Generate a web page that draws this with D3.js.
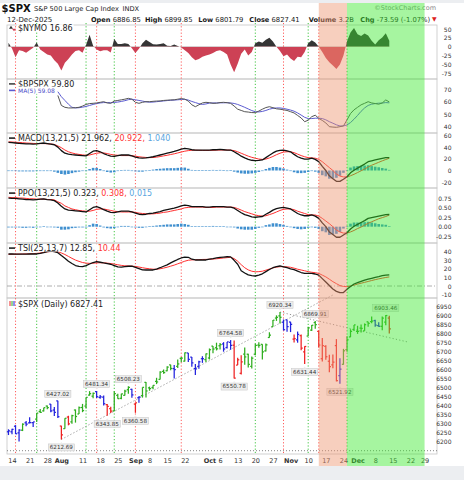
<!DOCTYPE html>
<html>
<head>
<meta charset="utf-8">
<title>$SPX</title>
<script src="https://cdn.jsdelivr.net/npm/d3@7"></script>
<style>
  html, body { margin: 0; padding: 0; background: #eceef1; overflow: hidden; }
  svg { display: block; font-family: "DejaVu Sans", sans-serif; }
</style>
</head>
<body>
<svg id="drawing_region"></svg>
<script>
// trading calendar
const firstDay = "2025-07-11";
const lastDay = "2026-01-05";
const holidays = ["2025-09-01", "2025-11-27", "2025-12-25", "2026-01-01"];

// daily bars, Jul 11 .. Dec 12
const priceOpen = [
  6255,6255,6286,6249,6264,6305,6304,6306,6326,6368,
  6371,6398,6409,6376,6427,6287,6272,6337,6310,6376,
  6354,6390,6398,6459,6453,6478,6446,6448,6406,6384,
  6371,6457,6441,6457,6489,6491,6409,6445,6456,6529,
  6499,6501,6535,6546,6591,6594,6627,6606,6619,6663,
  6647,6693,6670,6606,6619,6661,6656,6665,6731,6722,
  6733,6743,6723,6752,6736,6626,6580,6686,6686,6619,
  6686,6737,6741,6705,6779,6840,6887,6899,6864,6877,
  6865,6770,6766,6789,6699,6787,6820,6862,6813,6661,
  6729,6647,6627,6734,6567,6630,6711,6782,6823,6813,
  6831,6816,6866,6867,6873,6845,6841,6864,6886.85];
const priceHigh = [
  6269,6272,6292,6269,6302,6315,6336,6310,6360,6381,
  6389,6401,6410,6393,6427.02,6289,6330,6344,6350,6379,
  6395,6410,6446,6481,6474,6481.34,6459,6456,6410,6394,
  6480,6466,6467,6488,6508.23,6494,6417,6453,6502,6532,
  6506,6513,6555,6592,6601,6619,6627,6626,6657,6671,
  6695,6693,6670,6632,6650,6675,6690,6718,6731,6750,
  6749,6753,6754,6764.58,6762,6666,6680,6724,6688,6674,
  6744,6752,6742,6746,6808,6876,6902,6920.34,6879,6878,
  6866,6796,6812,6796,6730,6838,6848,6869.91,6818,6776,
  6736,6683,6684,6770,6664,6716,6786,6825,6849,6844,
  6851,6857,6867,6895,6878,6864,6895,6903.46,6899.85];
const priceLow = [
  6237,6242,6243,6201,6259,6286,6303,6282,6310,6360,
  6368,6380,6363,6343,6331,6212.69,6272,6291,6300,6306,
  6354,6364,6385,6456,6441,6443,6439,6401,6343.85,6360,
  6371,6438,6436,6457,6467,6444,6360.58,6417,6445,6446,
  6483,6491,6520,6545,6577,6592,6597,6551,6609,6642,
  6646,6643,6617,6570,6605,6638,6643,6657,6692,6707,
  6712,6700,6718,6711,6550.78,6626,6573,6627,6612,6606,
  6680,6722,6657,6701,6778,6838,6871,6856,6818,6811,
  6809,6751,6750,6708,6631.44,6787,6815,6827,6724,6646,
  6655,6586,6608,6535,6521.92,6628,6700,6781,6815,6799,
  6807,6816,6839,6858,6838,6838,6819,6847,6801.79];
const priceClose = [
  6260,6269,6244,6264,6297,6297,6306,6310,6359,6363,
  6389,6390,6371,6363,6339,6238,6330,6299,6345,6340,
  6389,6373,6446,6467,6469,6450,6449,6411,6396,6370,
  6467,6439,6466,6481,6502,6460,6416,6448,6502,6482,
  6495,6513,6532,6587,6584,6615,6607,6600,6632,6664,
  6694,6657,6638,6605,6644,6661,6688,6711,6715,6716,
  6740,6715,6754,6735,6553,6655,6644,6671,6629,6664,
  6735,6735,6699,6738,6792,6875,6891,6891,6822,6840,
  6852,6772,6796,6720,6729,6832,6847,6851,6737,6734,
  6672,6617,6642,6539,6603,6705,6766,6813,6849,6813,
  6829,6850,6857,6870,6847,6841,6887,6901,6827.41];
// impulse colour per bar: g = green, b = blue, r = red
const barColors = "bbbbgbbbgg" + "ggbbbrgrgg" + "gggggbbbrr" + "gggggbrbgg" + "gggggggbgg" +
  "gbbbbbgggg" + "gbbbrrrggg" + "ggggggggbb" + "brbrrgggrr" + "rrrrbggggg" + "ggggbbggr";

const nymo = [
  11,-5,-30,-10,-12,-17,-10,-3,12,-8,
  -15,-22,-25,-38,-48,-67,-45,-35,-22,-12,
  -10,-17,5,34,3,-8,-13,-10,-10,-16,
  22,8,8,10,8,-4,-18,-6,10,20,
  13,7,6,8,10,3,2,6,2,-2,
  -10,-18,-30,-38,-35,-28,-25,-22,-18,-12,
  -10,-15,-22,-50,-72,-48,-20,-8,-25,-15,
  10,15,11,20,25,15,0,-12,-27,-22,
  -33,-40,-28,-30,-15,10,18,12,0,-15,
  -32,-44,-53,-63,-50,-25,15,40,53,35,
  30,37,32,17,6,18,26,38,17];

const bpStart = "2025-07-31";
const bpspx = [
  65,57,55.5,55,55,55.2,55.5,56.5,57.8,58.5,
  58.7,59,59.5,60,59,58.7,60.5,61,61.5,62,
  62.7,62,59.5,58.7,59.5,60,60,60.3,60.5,60.6,
  61,61.2,61.4,61.5,62,62.5,62,60.5,57.5,56,
  57.5,59,59.5,59.2,58.7,58.8,59.3,59.5,59.2,58.7,
  56.5,54,53,52,51.7,51.3,51.2,52.5,54,55.3,
  56,55.2,54.3,54,53.5,53,52,51,49,47,
  44,45.2,48,49.2,46.7,45,43,40,39.7,39.5,
  40,40.6,45.4,50.5,53.5,55.5,57.5,58.7,60,59,
  58.5,58,59,61.4,59.8];
const bpMA5 = [
  68,64,61,58,55.5,55,55.2,55.6,56.2,57,
  57.8,58.5,59,59.3,59.3,59.2,59.4,59.7,60.2,60.8,
  61.6,62,61.5,61,60.5,59.9,59.6,59.7,60,60.3,
  60.6,60.9,61.1,61.3,61.5,61.8,61.9,61.3,60.2,59.3,
  58.4,57.8,58.2,58.9,59,59,59.1,59.1,59.2,59,
  58.6,57.8,56.7,55.5,54.2,52.9,52,51.8,52.2,53,
  54,54.7,55,55,54.6,54,53.3,52.4,51,49.3,
  47.5,46.5,46.5,46.8,46.8,46.5,45.5,44,42.8,41.5,
  40.6,40.6,41.4,43.3,46,49,52.3,55,57,58,
  58.5,58.8,58.9,59.3,59.08];

const macdLine = [
  48,47.5,47,46.5,46,45.5,45.5,45,45.5,46.5,
  47,46,45,44,40,34,29.5,28,27,26.5,
  26,25.5,25,29,33,34,32,29,26.5,24.5,
  24,25.5,26.5,26.5,26.5,25,23,21.5,21,21.5,
  22.5,23.5,25,26.5,28,29.5,31,32.5,34.5,36.5,
  38,37,35.5,35,35,35,35,35,35.5,35.5,
  36,35.5,35,35,32,28.5,24.5,21.5,19,17.5,
  16.8,17.2,18,22,26,30,33,34.5,35,33.5,
  32,27.5,23.5,21,19.5,19.5,21,19,15,7,
  0,-9,-14,-18.5,-18.5,-15,-10.6,-4,0.5,4,
  7.5,11,15,16.5,18,19.5,20.8,22,21.96];
const macdSignal = [
  49,48.7,48.3,48,47.5,47,46.7,46.3,46,46,
  46,45.8,45.3,44.5,42,39,35,32,30,28.5,
  27.5,26.7,26,26.5,28,29.5,30.3,30,29,27.5,
  26.5,26,25.5,25.5,25.5,25.3,24.5,23.5,22.8,22.3,
  22,22.2,22.8,23.8,25,26,27.3,28.5,30,31.5,
  33,34,34.5,34.7,34.5,34.3,34.3,34.3,34.5,34.8,
  35,35,35,34.8,34,32,29.5,27,24.5,22.5,
  21,19.5,19,19.5,21.5,24,27,29.5,31.5,32,
  32,30.5,28,25.5,23.5,22,21.5,21,19,15,
  10,5,0,-6,-9.5,-11,-11,-9,-6.5,-3.5,
  -0.5,2.5,6,9,11.5,14,16.5,18.8,20.92];
const macdHist = [
  -1,-1,-1,-1.5,-1.5,-1.5,-1.5,-1.5,-1,-0.5,
  0,-0.5,-1,-2,-4,-6,-7,-6,-4.5,-3,
  -2,-1,0,2.5,4.5,4.5,2.5,0,-2.5,-3.5,
  -3,-1,0.5,1,1,0,-1.5,-2,-2,-1,
  0.5,1.5,2.5,3,3.5,4,4,4,4.5,5,
  5,3,1,0.3,0.5,0.7,0.7,0.7,1,0.7,
  1,0.5,0,0.2,-2,-3.5,-5,-5.5,-5.5,-5,
  -4,-2.5,-1,2.5,4.5,6,6,5,3.5,1.5,
  0,-3,-4.5,-4.5,-4,-2.5,-0.5,-2,-4,-8,
  -10,-14,-14,-12.5,-9,-4,0.4,5,7,7.5,
  8,8.5,9,7.5,6.5,5.5,4.3,3.2,1.04];

const ppoLine = [
  0.76,0.75,0.75,0.74,0.73,0.72,0.72,0.71,0.72,0.73,
  0.74,0.72,0.71,0.69,0.63,0.54,0.47,0.44,0.43,0.42,
  0.41,0.40,0.39,0.45,0.51,0.53,0.50,0.45,0.41,0.38,
  0.37,0.39,0.41,0.41,0.41,0.39,0.36,0.33,0.32,0.33,
  0.35,0.36,0.38,0.40,0.43,0.45,0.47,0.49,0.52,0.55,
  0.57,0.56,0.53,0.53,0.53,0.53,0.52,0.52,0.53,0.53,
  0.53,0.53,0.52,0.52,0.49,0.43,0.37,0.32,0.29,0.26,
  0.25,0.26,0.27,0.33,0.38,0.44,0.48,0.50,0.51,0.49,
  0.47,0.41,0.35,0.31,0.29,0.29,0.31,0.28,0.22,0.10,
  0.00,-0.14,-0.21,-0.28,-0.28,-0.22,-0.16,-0.06,0.01,0.06,
  0.11,0.16,0.22,0.24,0.26,0.28,0.30,0.32,0.323];
const ppoSignal = [
  0.78,0.77,0.77,0.76,0.76,0.75,0.74,0.74,0.73,0.73,
  0.73,0.72,0.72,0.71,0.66,0.62,0.55,0.51,0.47,0.45,
  0.43,0.42,0.41,0.41,0.43,0.46,0.47,0.47,0.45,0.43,
  0.41,0.40,0.39,0.39,0.39,0.39,0.38,0.36,0.35,0.34,
  0.34,0.34,0.35,0.36,0.38,0.39,0.41,0.43,0.45,0.47,
  0.50,0.51,0.52,0.52,0.52,0.52,0.51,0.51,0.51,0.52,
  0.52,0.52,0.52,0.52,0.51,0.48,0.44,0.40,0.37,0.34,
  0.31,0.29,0.28,0.29,0.32,0.35,0.39,0.43,0.46,0.47,
  0.47,0.45,0.41,0.38,0.35,0.32,0.31,0.31,0.28,0.22,
  0.15,0.08,0.00,-0.09,-0.14,-0.17,-0.17,-0.14,-0.10,-0.05,
  -0.01,0.04,0.09,0.13,0.17,0.21,0.24,0.27,0.308];
const ppoHist = [
  -0.02,-0.02,-0.02,-0.02,-0.03,-0.03,-0.02,-0.03,-0.01,0.00,
  0.01,0.00,-0.01,-0.02,-0.03,-0.08,-0.08,-0.07,-0.04,-0.03,
  -0.02,-0.02,-0.02,0.04,0.08,0.07,0.03,-0.02,-0.04,-0.05,
  -0.04,-0.01,0.02,0.02,0.02,0.00,-0.02,-0.03,-0.03,-0.01,
  0.01,0.02,0.03,0.04,0.05,0.06,0.06,0.06,0.07,0.08,
  0.07,0.05,0.01,0.01,0.01,0.01,0.01,0.01,0.02,0.01,
  0.01,0.01,0.00,0.00,-0.02,-0.05,-0.07,-0.08,-0.08,-0.08,
  -0.06,-0.03,-0.01,0.04,0.06,0.09,0.09,0.07,0.05,0.02,
  0.00,-0.04,-0.06,-0.07,-0.06,-0.03,0.00,-0.03,-0.06,-0.12,
  -0.15,-0.22,-0.21,-0.19,-0.14,-0.05,0.01,0.08,0.11,0.11,
  0.12,0.12,0.13,0.11,0.09,0.07,0.06,0.05,0.015];

const tsiLine = [
  36.8,36.8,36.7,36.6,36.6,36.7,36.8,36.8,36.8,37.5,
  38.3,39.5,40,39.5,38.3,35,32,28.5,25.8,23.5,
  22.5,22.3,23.5,25.3,27,28,27.3,26.5,25.8,25,
  23.5,22,21.7,22.2,22.7,22.8,21.5,20,18.6,18.4,
  18.4,18.4,19.5,21,22.7,24.3,26.5,28.5,30.5,32.2,
  33.3,33,30.8,29.9,29.9,29.9,29.9,30.8,31.5,32.3,
  33,33.3,33.6,33.5,29.5,25,17.5,15,12.8,12,
  11.5,12.5,14,16.5,19,21,22.3,23,22,21,
  19.8,18.8,17.2,15.5,14.6,14.6,14.6,13.8,12.5,8.5,
  4.5,0.5,-3.5,-6.2,-7.7,-7.5,-3.8,-0.5,2.3,3.8,
  5.2,6.7,7.8,8.9,10,10.8,11.8,12.6,12.85];
const tsiSignal = [
  36.4,36.5,36.6,36.7,36.8,36.9,37,37.2,37.5,38,
  38.7,39.3,39.6,39.6,39.3,38,36.2,34,31.8,29.8,
  28.3,27,26.3,26,26.2,26.6,26.7,26.6,26.3,25.8,
  25.2,24.4,23.7,23.2,23,22.8,22.5,21.8,21,20.3,
  19.8,19.3,19.3,19.8,20.6,21.6,22.8,24,25.5,27,
  28.5,29.6,30,30.2,30.3,30.5,30.6,30.7,31,31.3,
  31.7,32.2,32.6,33,31.5,28.5,24.5,21,18.5,17,
  16.3,16.5,17,18.2,19.5,20.8,21.7,22.2,22.2,22,
  21.5,20.5,19.3,18.4,17.5,16.5,15.8,15.3,14.5,12.5,
  10.5,7.8,5,2.7,0.5,-0.5,-0.8,0,1,2.2,
  3.2,4.2,5.2,6.3,7.3,8.2,9,9.8,10.44];

// axis ticks
const xTickDates = ["2025-07-14","2025-07-21","2025-07-28","2025-08-01","2025-08-11","2025-08-18","2025-08-25",
  "2025-09-02","2025-09-08","2025-09-15","2025-09-22","2025-10-01","2025-10-06","2025-10-13","2025-10-20",
  "2025-10-27","2025-11-03","2025-11-10","2025-11-17","2025-11-24","2025-12-01","2025-12-08","2025-12-15",
  "2025-12-22","2025-12-29"];
const xTickLabels = ["14","21","28","Aug","11","18","25","Sep","8","15","22","Oct","6","13","20","27",
  "Nov","10","17","24","Dec","8","15","22","29"];
const nymoTicks = [50, 25, 0, -25, -50, -75];
const bpTicks = [70, 60, 50, 40];
const macdTicks = [60, 40, 20, 0, -20];
const ppoTicks = [0.75, 0.5, 0.25, 0, -0.25];
const tsiTicks = [40, 30, 20, 10, 0, -10];
const priceTicks = [6950, 6900, 6850, 6800, 6750, 6700, 6650, 6600, 6550, 6500, 6450, 6400, 6350, 6300, 6250, 6200];

// annotations
const redMarkers = ["2025-07-15", "2025-08-15", "2025-09-02", "2025-09-19", "2025-10-30", "2025-11-13"];
const greenMarkers = ["2025-07-23", "2025-08-12", "2025-08-22", "2025-10-20", "2025-11-10", "2025-11-25"];
const salmonRange = ["2025-11-13", "2025-11-25"];
const greenRange = ["2025-11-25", "2025-12-29"];
const labelDates = ["2025-07-31","2025-08-01","2025-08-15","2025-08-20","2025-08-28","2025-09-02",
  "2025-10-09","2025-10-10","2025-10-29","2025-11-07","2025-11-12","2025-11-21","2025-12-11"];
const labelSides = ["high","low","high","low","high","low","high","low","high","low","high","low","high"];
const trendLines = [
  [["2025-08-01", 6212.69], ["2025-11-19", 7015]],
  [["2025-10-29", 6920.34], ["2025-12-19", 6755]]
];
const quoteLabels = ["Open", "High", "Low", "Close", "Volume", "Chg"];
const quoteValues = ["6886.85", "6899.85", "6801.79", "6827.41", "3.2B", "-73.59 (-1.07%)"];

// ------------------------------------------------------------
const tradingDays = [];
for (let t = new Date(firstDay + "T00:00:00Z"); t <= new Date(lastDay + "T00:00:00Z"); t.setUTCDate(t.getUTCDate() + 1)) {
  const s = t.toISOString().slice(0, 10);
  const wd = t.getUTCDay();
  if (wd !== 0 && wd !== 6 && !holidays.includes(s)) tradingDays.push(s);
}
const dayIndex = new Map(tradingDays.map((d, i) => [d, i]));

const svg = d3.select('#drawing_region').attr('width', 464).attr('height', 480);
const defs = svg.append('defs');

const left = 7, right = 437;
const x = d3.scaleLinear().domain([-0.42, 121.53]).range([left, right]);
const dx = d => x(dayIndex.get(d));

const yNymo = d3.scaleLinear().domain([-75, 50]).range([73.3, 29]);
const yBp = d3.scaleLinear().domain([40, 70]).range([126.7, 89.2]);
const yMacd = d3.scaleLinear().domain([-20, 60]).range([182.2, 135.4]);
const yPpo = d3.scaleLinear().domain([-0.25, 0.75]).range([236.1, 198.4]);
const yTsi = d3.scaleLinear().domain([-10, 40]).range([294.7, 251.2]);
const yPrice = d3.scaleLinear().domain([6200, 6950]).range([441.7, 306.7]);

const panels = [[25, 79], [79, 133], [133, 188], [188, 243], [243, 298], [298, 454]];

// white chart sheet
svg.append('rect').attr('x', 0).attr('y', 3).attr('width', 464).attr('height', 463).attr('fill', '#fff');

// header
svg.append('text').attr('x', 1.5).attr('y', 11.5).attr('font-size', 10).attr('font-weight', 'bold')
  .attr('fill', '#111').text('$SPX');
const subTitle = svg.append('text').attr('x', 34).attr('y', 11).attr('font-size', 6.7).attr('fill', '#222')
  .text('S&P 500 Large Cap Index');
const subW = subTitle.node().getComputedTextLength();
svg.append('text').attr('x', 34 + subW + 3.5).attr('y', 11).attr('font-size', 6.7).attr('fill', '#222').text('INDX');
svg.append('text').attr('x', 436).attr('y', 10).attr('font-size', 6.5).attr('fill', '#8a8a8a')
  .attr('text-anchor', 'end').text('\u00a9StockCharts.com');

svg.append('text').attr('x', 7).attr('y', 21.5).attr('font-size', 7).attr('fill', '#1a1a1a').text('12-Dec-2025');
const quoteX = [91, 145, 198.3, 249.3, 308.7, 360.3];
quoteLabels.forEach((lab, k) => {
  const t = svg.append('text').attr('x', quoteX[k]).attr('y', 21.5).attr('font-size', 6.6)
    .attr('font-weight', 'bold').attr('fill', '#1a1a1a').text(lab);
  const w = t.node().getComputedTextLength();
  svg.append('text').attr('x', quoteX[k] + w + 2.2).attr('y', 21.5).attr('font-size', 6.8)
    .attr('fill', '#1a1a1a').text(quoteValues[k]);
});
svg.append('text').attr('x', 432).attr('y', 21).attr('font-size', 6).attr('fill', '#d22').text('\u25BC');

// panel frames
svg.append('g').selectAll('rect').data(panels).join('rect')
  .attr('x', left).attr('y', d => d[0]).attr('width', right - left).attr('height', d => d[1] - d[0])
  .attr('fill', 'none').attr('stroke', '#c6c6c6').attr('stroke-width', 0.8);

// dotted event markers
const markers = redMarkers.map(d => [d, '#ff4a4a']).concat(greenMarkers.map(d => [d, '#2cc02c']));
svg.append('g').selectAll('line').data(markers).join('line')
  .attr('x1', d => dx(d[0])).attr('x2', d => dx(d[0])).attr('y1', 23).attr('y2', 454)
  .attr('stroke', d => d[1]).attr('stroke-width', 0.9).attr('stroke-dasharray', '1.2,2');

function clipFor(id, top, bottom) {
  defs.append('clipPath').attr('id', id).append('rect')
    .attr('x', left).attr('y', top).attr('width', right - left).attr('height', bottom - top);
  return `url(#${id})`;
}

function drawLine(values, y, color, width, offset, clip) {
  const line = d3.line().x((d, i) => x(i + offset)).y(d => y(d));
  svg.append('path').datum(values).attr('d', line).attr('fill', 'none')
    .attr('stroke', color).attr('stroke-width', width).attr('stroke-linejoin', 'round')
    .attr('clip-path', clip);
}

function drawHist(values, y, clip) {
  svg.append('g').attr('clip-path', clip).selectAll('rect').data(values).join('rect')
    .attr('x', (d, i) => x(i) - 1.3).attr('width', 2.6)
    .attr('y', d => Math.min(y(d), y(0))).attr('height', d => Math.max(0.6, Math.abs(y(d) - y(0))))
    .attr('fill', '#3f8fcf');
}

function rightAxis(y, ticks, fmt) {
  const g = svg.append('g').attr('transform', `translate(${right},0)`)
    .call(d3.axisRight(y).tickValues(ticks).tickSize(0).tickFormat(fmt));
  g.select('.domain').remove();
  g.selectAll('text').attr('x', 14.5).attr('dy', '0.35em').attr('text-anchor', 'end')
    .attr('font-size', 6).attr('font-family', '"DejaVu Sans", sans-serif').attr('fill', '#333');
}

function legend(yBase, parts, icon, size) {
  const g = svg.append('g');
  const bg = g.append('rect').attr('fill', '#fff');
  const t = g.append('text').attr('x', 18).attr('y', yBase).attr('font-size', size || 8);
  parts.forEach(p => t.append('tspan').attr('fill', p[1]).text(p[0]));
  const w = t.node().getComputedTextLength();
  bg.attr('x', 17).attr('y', yBase - 6.8).attr('width', w + 2).attr('height', 7.3);
  if (icon === 'area') {
    g.append('path').attr('d', `M9,${yBase - 2.5} L11,${yBase - 5.5} L13,${yBase - 2.5} Z`).attr('fill', '#333');
    g.append('path').attr('d', `M12,${yBase - 2.5} L14,${yBase} L16,${yBase - 2.5} Z`).attr('fill', '#cd4155');
  } else if (icon === 'bars') {
    ['#ee2222', '#2fae1f', '#2222dd'].forEach((c, i) => {
      g.append('line').attr('x1', 10 + i * 2).attr('x2', 10 + i * 2)
        .attr('y1', yBase - 6).attr('y2', yBase - 1).attr('stroke', c).attr('stroke-width', 1);
    });
  } else {
    g.append('line').attr('x1', 9).attr('x2', 15).attr('y1', yBase - 2.9).attr('y2', yBase - 2.9)
      .attr('stroke', icon).attr('stroke-width', 1.6);
  }
}

// ---- $NYMO ----
const zeroN = yNymo(0);
const nymoArea = d3.area().x((d, i) => x(i)).y0(zeroN).y1(d => yNymo(d));
const posClip = clipFor('nymoPos', 25, zeroN);
const negClip = clipFor('nymoNeg', zeroN, 79);
svg.append('path').datum(nymo).attr('d', nymoArea).attr('fill', '#353535').attr('clip-path', posClip);
svg.append('path').datum(nymo).attr('d', nymoArea).attr('fill', '#cd4155').attr('clip-path', negClip);
rightAxis(yNymo, nymoTicks, d => String(d));
legend(31.2, [['$NYMO 16.86', '#222']], 'area');

// ---- $BPSPX ----
const bpOff = dayIndex.get(bpStart);
const bpClip = clipFor('bpClip', 79, 133);
drawLine(bpMA5, yBp, '#5c5cd0', 1, bpOff, bpClip);
drawLine(bpspx, yBp, '#555', 1, bpOff, bpClip);
rightAxis(yBp, bpTicks, d => String(d));
legend(86.8, [['$BPSPX 59.80', '#222']], '#444');
legend(93.3, [['MA(5) 59.08', '#4b4bc8']], '#5c5cd0', 6);

// ---- MACD ----
const macdClip = clipFor('macdClip', 133, 188);
drawHist(macdHist, yMacd, macdClip);
drawLine(macdSignal, yMacd, '#ff3030', 1, 0, macdClip);
drawLine(macdLine, yMacd, '#111', 1.3, 0, macdClip);
rightAxis(yMacd, macdTicks, d => String(d));
legend(141, [['MACD(13,21,5) 21.962, ', '#222'], ['20.922, ', '#f33'], ['1.040', '#5aa5e0']], '#222');

// ---- PPO ----
const ppoClip = clipFor('ppoClip', 188, 243);
drawHist(ppoHist, yPpo, ppoClip);
drawLine(ppoSignal, yPpo, '#ff3030', 1, 0, ppoClip);
drawLine(ppoLine, yPpo, '#111', 1.3, 0, ppoClip);
rightAxis(yPpo, ppoTicks, d => d.toFixed(2));
legend(196, [['PPO(13,21,5) 0.323, ', '#222'], ['0.308, ', '#f33'], ['0.015', '#5aa5e0']], '#222');

// ---- TSI ----
const tsiClip = clipFor('tsiClip', 243, 298);
svg.append('line').attr('x1', left).attr('x2', right).attr('y1', yTsi(0)).attr('y2', yTsi(0))
  .attr('stroke', '#999').attr('stroke-width', 0.8).attr('stroke-dasharray', '5,2,1,2');
drawLine(tsiSignal, yTsi, '#ff3030', 1, 0, tsiClip);
drawLine(tsiLine, yTsi, '#111', 1.3, 0, tsiClip);
rightAxis(yTsi, tsiTicks, d => String(d));
legend(251, [['TSI(25,13,7) 12.85, ', '#222'], ['10.44', '#f33']], '#222');

// ---- price ----
svg.append('line').attr('x1', left).attr('x2', right).attr('y1', yPrice(6150)).attr('y2', yPrice(6150))
  .attr('stroke', '#777').attr('stroke-width', 0.9).attr('stroke-dasharray', '1,2');

const trendLine = d3.line().x(d => dx(d[0])).y(d => yPrice(d[1]));
svg.append('g').selectAll('path').data(trendLines).join('path')
  .attr('d', trendLine).attr('fill', 'none').attr('stroke', '#888')
  .attr('stroke-width', 0.9).attr('stroke-dasharray', '1.2,2.2');

const colorOf = { g: '#2fae1f', b: '#2222dd', r: '#ee2222' };
const bars = priceClose.map((c, i) => ({
  i, o: priceOpen[i], h: priceHigh[i], l: priceLow[i], c, col: colorOf[barColors[i]]
}));
const barG = svg.append('g').selectAll('g').data(bars).join('g')
  .attr('stroke', d => d.col).attr('stroke-width', 1.25);
barG.append('line').attr('x1', d => x(d.i)).attr('x2', d => x(d.i))
  .attr('y1', d => yPrice(d.h)).attr('y2', d => yPrice(d.l));
barG.append('line').attr('x1', d => x(d.i) - 1.6).attr('x2', d => x(d.i))
  .attr('y1', d => yPrice(d.o)).attr('y2', d => yPrice(d.o));
barG.append('line').attr('x1', d => x(d.i)).attr('x2', d => x(d.i) + 1.6)
  .attr('y1', d => yPrice(d.c)).attr('y2', d => yPrice(d.c));

// value call-outs on swing highs and lows
labelDates.forEach((d, k) => {
  const i = dayIndex.get(d);
  const side = labelSides[k];
  const v = side === 'high' ? priceHigh[i] : priceLow[i];
  const cx = x(i);
  const g = svg.append('g');
  const box = g.append('rect');
  const t = g.append('text').attr('font-size', 5.6).attr('fill', '#333').attr('text-anchor', 'middle')
    .text(v.toFixed(2));
  const w = t.node().getComputedTextLength() + 3;
  const top = side === 'high' ? yPrice(v) - 3.5 - 7 : yPrice(v) + 4.5;
  box.attr('x', cx - w / 2).attr('y', top).attr('width', w).attr('height', 7)
    .attr('fill', '#ededed').attr('stroke', '#c4c4c4').attr('stroke-width', 0.5);
  t.attr('x', cx).attr('y', top + 5.4);
  const tip = side === 'high'
    ? `M${cx - 1.6},${top + 7} L${cx + 1.6},${top + 7} L${cx},${top + 9} Z`
    : `M${cx - 1.6},${top} L${cx + 1.6},${top} L${cx},${top - 2} Z`;
  g.append('path').attr('d', tip).attr('fill', '#ededed');
});

rightAxis(yPrice, priceTicks, d => String(d));
legend(307, [['$SPX (Daily) 6827.41', '#222']], 'bars');

// ---- date axis ----
const months = ['Aug', 'Sep', 'Oct', 'Nov', 'Dec'];
const xg = svg.append('g').attr('transform', 'translate(0,463)')
  .call(d3.axisBottom(x).tickValues(xTickDates.map(d => dayIndex.get(d)))
    .tickFormat((d, i) => xTickLabels[i]).tickSize(0));
xg.select('.domain').remove();
xg.selectAll('text').attr('y', 0).attr('dy', 0).attr('font-size', 6.5)
  .attr('font-family', '"DejaVu Sans", sans-serif').attr('fill', '#333')
  .attr('font-weight', (d, i) => months.includes(xTickLabels[i]) ? 'bold' : 'normal');

// ---- shaded periods, laid over everything ----
const shades = [[salmonRange, 'rgb(238,149,111)'], [greenRange, 'rgb(58,233,44)']];
svg.append('g').selectAll('rect').data(shades).join('rect')
  .attr('x', d => dx(d[0][0])).attr('width', d => dx(d[0][1]) - dx(d[0][0]))
  .attr('y', 3).attr('height', 463)
  .attr('fill', d => d[1]).attr('fill-opacity', 0.45);
</script>
</body>
</html>
